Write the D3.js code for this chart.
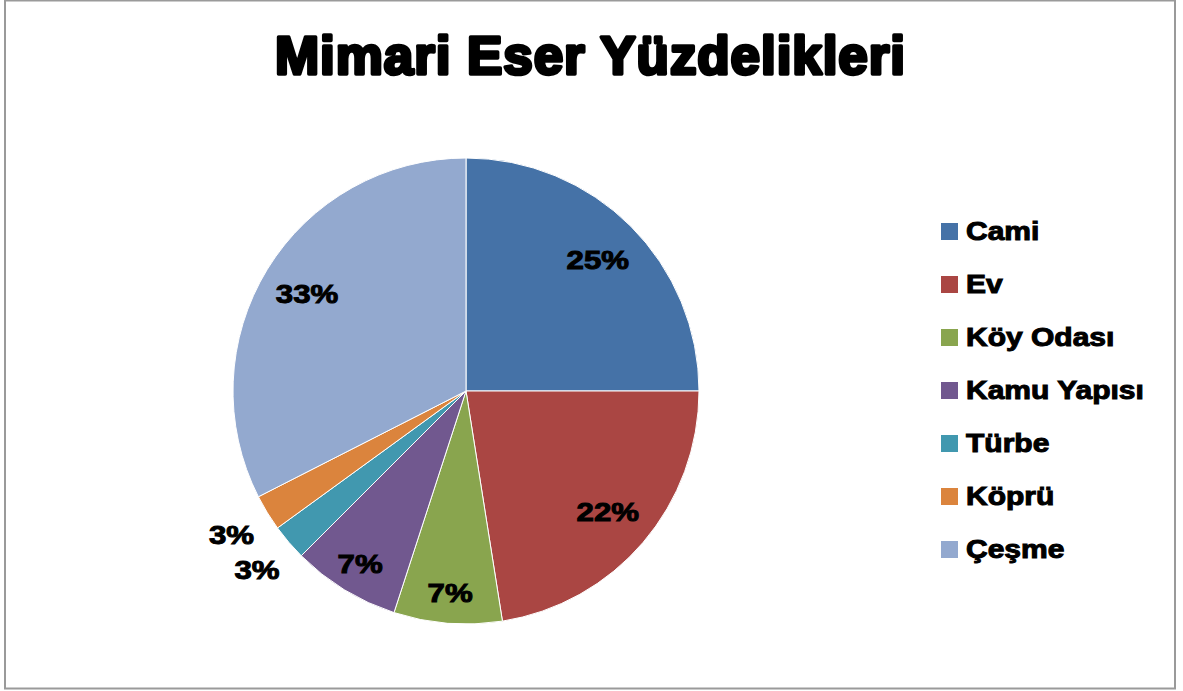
<!DOCTYPE html>
<html>
<head>
<meta charset="utf-8">
<script src="https://cdn.jsdelivr.net/npm/d3@7"></script>
<style>
  body { margin: 0; background: #fff; }
  text { font-family: "Liberation Sans", Arial, sans-serif; font-weight: bold; }
</style>
</head>
<body>
<svg id="drawing_region"></svg>
<script>
const categories = ["Cami", "Ev", "Köy Odası", "Kamu Yapısı", "Türbe", "Köprü", "Çeşme"];
const values = [10, 9, 3, 3, 1, 1, 13];
const pct_labels = ["25%", "22%", "7%", "7%", "3%", "3%", "33%"];
const colors = ["#4572A7", "#AA4643", "#89A54E", "#71588F", "#4198AF", "#DB843D", "#93A9CF"];

const config = {
    width: 1183,
    height: 691,
    cx: 466,
    cy: 391,
    radius: 233,
    stretch: 1.2
};

const svg = d3.select("#drawing_region")
    .attr("width", config.width)
    .attr("height", config.height);

// chart frame
svg.append("rect")
    .attr("x", 5)
    .attr("y", 0.5)
    .attr("width", 1170)
    .attr("height", 688)
    .attr("fill", "none")
    .attr("stroke", "#9a9a9a")
    .attr("stroke-width", 2);

svg.append("text")
    .attr("x", 590)
    .attr("y", 74)
    .attr("text-anchor", "middle")
    .attr("font-size", 53)
    .attr("stroke", "#000")
    .attr("stroke-width", 3.5)
    .attr("stroke-linejoin", "round")
    .attr("textLength", 630)
    .text("Mimari Eser Yüzdelikleri");

const data = categories.map((c, i) => ({ name: c, value: values[i], label: pct_labels[i], color: colors[i] }));

const pie = d3.pie().sort(null).value(d => d.value);
const arcs = pie(data);
const arc = d3.arc().innerRadius(0).outerRadius(config.radius);

const chart = svg.append("g")
    .attr("transform", `translate(${config.cx}, ${config.cy})`);

chart.selectAll("path")
    .data(arcs)
    .join("path")
    .attr("d", arc)
    .attr("fill", d => d.data.color)
    .attr("stroke", "#fff")
    .attr("stroke-width", 1);

const total = d3.sum(values);
const label_radius = d => {
    const p = d.data.value / total;
    if (p >= 0.1) return config.radius * 0.8;
    if (p >= 0.05) return config.radius * 0.87;
    return config.radius * 1.18;
};

chart.selectAll("text")
    .data(arcs)
    .join("text")
    .attr("transform", d => {
        const a = (d.startAngle + d.endAngle) / 2;
        const r = label_radius(d);
        return `translate(${Math.sin(a) * r}, ${-Math.cos(a) * r}) scale(${config.stretch}, 1)`;
    })
    .attr("text-anchor", "middle")
    .attr("dy", "0.36em")
    .attr("font-size", 26)
    .attr("stroke", "#000")
    .attr("stroke-width", 1)
    .text(d => d.data.label);

const legend = svg.append("g")
    .attr("transform", "translate(941, 231)");

const rows = legend.selectAll("g")
    .data(data)
    .join("g")
    .attr("transform", (d, i) => `translate(0, ${i * 53})`);

rows.append("rect")
    .attr("x", 0)
    .attr("y", -8)
    .attr("width", 17)
    .attr("height", 17)
    .attr("fill", d => d.color);

rows.append("text")
    .attr("transform", `translate(25, 0) scale(${config.stretch}, 1)`)
    .attr("dy", "0.36em")
    .attr("font-size", 25)
    .attr("stroke", "#000")
    .attr("stroke-width", 1)
    .text(d => d.name);
</script>
</body>
</html>
